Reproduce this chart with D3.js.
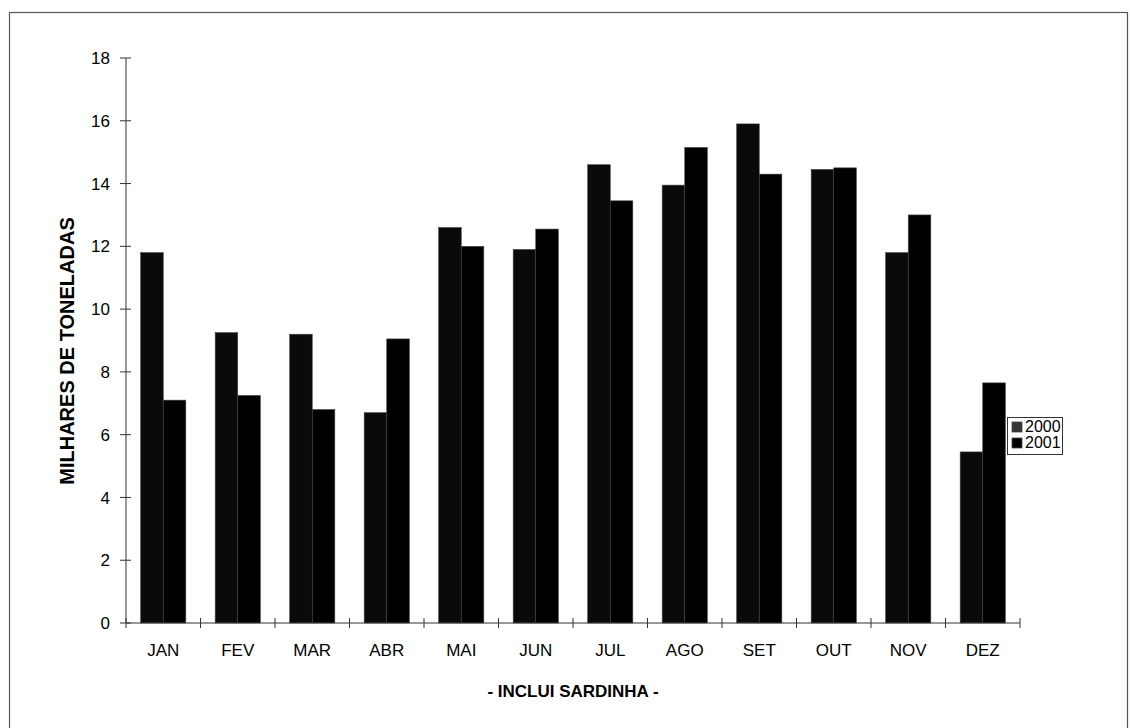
<!DOCTYPE html>
<html><head><meta charset="utf-8">
<script src="https://cdn.jsdelivr.net/npm/d3@7"></script>
<style>body{margin:0;background:#fff}svg{display:block;font-family:"Liberation Sans",Arial,sans-serif}</style>
</head><body>
<svg id="c" width="1130" height="728"></svg>
<script>
const months = ["JAN","FEV","MAR","ABR","MAI","JUN","JUL","AGO","SET","OUT","NOV","DEZ"];
const series = ["2000","2001"];
const v2000 = [11.8, 9.25, 9.2, 6.7, 12.6, 11.9, 14.6, 13.95, 15.9, 14.45, 11.8, 5.45];
const v2001 = [7.1, 7.25, 6.8, 9.05, 12.0, 12.55, 13.45, 15.15, 14.3, 14.5, 13.0, 7.65];
const yTicks = [0,2,4,6,8,10,12,14,16,18];
const colors = {"2000":"#0a0a0a","2001":"#000000"};

const svg = d3.select("#c");
const m = {l:126, r:1020, t:58, b:623};
// frame
svg.append("rect").attr("x",9.5).attr("y",12.5).attr("width",1118).attr("height",740)
  .attr("fill","none").attr("stroke","#555").attr("stroke-width",1.2);

const x = d3.scaleBand().domain(months).range([m.l,m.r]).paddingInner(0).paddingOuter(0);
const xs = d3.scaleBand().domain(series).range([0,x.bandwidth()]).paddingInner(0).paddingOuter(0.65);
const y = d3.scaleLinear().domain([0,18]).range([m.b,m.t]);

const data = months.map((mo,i)=>({mo, vals:[{s:"2000",v:v2000[i]},{s:"2001",v:v2001[i]}]}));
const g = svg.append("g");
g.selectAll("g.grp").data(data).join("g").attr("transform",d=>`translate(${x(d.mo)},0)`)
  .selectAll("rect").data(d=>d.vals).join("rect")
  .attr("x",d=>xs(d.s)).attr("width",xs.bandwidth())
  .attr("y",d=>y(d.v)).attr("height",d=>m.b-y(d.v))
  .attr("fill",d=>colors[d.s]).attr("stroke","#444").attr("stroke-width",0.6);

// y axis
const ya = svg.append("g").attr("transform",`translate(${m.l},0)`);
ya.append("line").attr("x1",0).attr("x2",0).attr("y1",m.t).attr("y2",m.b).attr("stroke","#333");
ya.selectAll("line.t").data(yTicks).join("line").attr("class","t")
  .attr("x1",-6).attr("x2",5).attr("y1",d=>y(d)).attr("y2",d=>y(d)).attr("stroke","#333");
ya.selectAll("text").data(yTicks).join("text")
  .attr("x",-16).attr("y",d=>y(d)).attr("dy","0.36em").attr("text-anchor","end")
  .attr("font-size",17).text(d=>d);

// x axis
const xa = svg.append("g");
xa.append("line").attr("x1",m.l).attr("x2",m.r).attr("y1",m.b).attr("y2",m.b).attr("stroke","#333");
const xt = months.map(d=>x(d)).concat([m.r]);
xa.selectAll("line.t").data(xt).join("line").attr("class","t")
  .attr("x1",d=>d).attr("x2",d=>d).attr("y1",m.b-5).attr("y2",m.b+5).attr("stroke","#333");
xa.selectAll("text").data(months).join("text")
  .attr("x",d=>x(d)+x.bandwidth()/2).attr("y",656).attr("text-anchor","middle")
  .attr("font-size",17).text(d=>d);

// titles
svg.append("text").attr("transform",`translate(74,351) rotate(-90)`).attr("text-anchor","middle")
  .attr("font-size",20).attr("font-weight","bold").text("MILHARES DE TONELADAS");
svg.append("text").attr("x",(m.l+m.r)/2).attr("y",697).attr("text-anchor","middle")
  .attr("font-size",17).attr("font-weight","bold").text("- INCLUI SARDINHA -");

// legend
const lg = svg.append("g").attr("transform","translate(1007,417)");
lg.append("rect").attr("x",0.5).attr("y",0.5).attr("width",55).attr("height",37)
  .attr("fill","#fff").attr("stroke","#333");
series.forEach((s,i)=>{
  lg.append("rect").attr("x",5).attr("y",5+i*16).attr("width",10).attr("height",10)
    .attr("fill",s==="2000"?"#333":colors[s]).attr("stroke","#444").attr("stroke-width",0.8);
  lg.append("text").attr("x",18).attr("y",15+i*16).attr("font-size",16).text(s);
});
</script>
</body></html>
